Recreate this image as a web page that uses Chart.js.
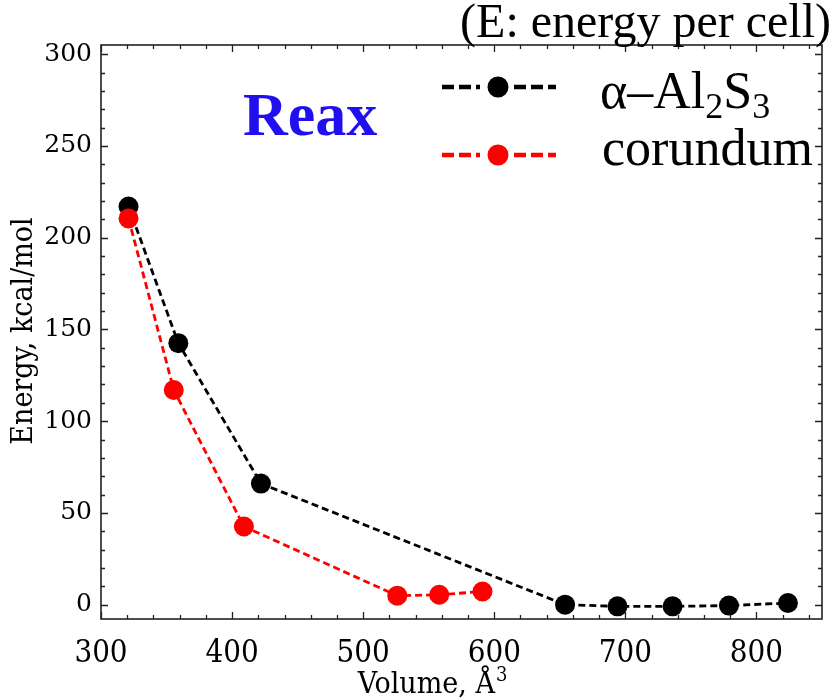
<!DOCTYPE html>
<html><head><meta charset="utf-8">
<script src="https://cdn.jsdelivr.net/npm/chart.js@4/dist/chart.umd.min.js"></script>
<style>html,body{margin:0;padding:0;background:#fff}#wrap{width:835px;height:700px}</style>
</head><body><div id="wrap"><canvas id="c" width="835" height="700"></canvas></div>
<script>
// ---- data ----
const alphaVolume = [321, 359, 422, 654, 694, 736, 779, 824];
const alphaEnergy = [217, 142.5, 66, 0, -0.9, -0.9, -0.5, 0.9];
const corVolume = [321, 355.5, 409, 526, 558, 591];
const corEnergy = [210.5, 117, 42.6, 4.9, 5.4, 7.2];
const xTicks = [300, 400, 500, 600, 700, 800];
const yTicks = [0, 50, 100, 150, 200, 250, 300];
const xTitleParts = [['Volume, Å', false], ['3', true]];
const yTitle = 'Energy, kcal/mol';
const noteText = '(E: energy per cell)';
const methodText = 'Reax';
const alphaLabelParts = [['α–Al', false], ['2', true], ['S', false], ['3', true]];
const corLabel = 'corundum';

const toPts = (xs, ys) => xs.map((x, i) => ({x: x, y: ys[i]}));
const COND = '"DejaVu Serif Condensed", "DejaVu Serif", serif';

const decor = {
  id: 'decor',
  beforeDatasetsDraw(chart) {
    const ctx = chart.ctx, a = chart.chartArea;
    const xs = chart.scales.x, ys = chart.scales.y;
    ctx.save();
    ctx.strokeStyle = '#222';
    ctx.lineWidth = 1.3;
    for (let v = 300; v <= 850; v += 20) {
      const px = Math.round(xs.getPixelForValue(v)) + 0.5;
      const L = v % 100 === 0 ? 7 : 4;
      ctx.beginPath();
      ctx.moveTo(px, a.bottom); ctx.lineTo(px, a.bottom - L);
      ctx.moveTo(px, a.top); ctx.lineTo(px, a.top + L);
      ctx.stroke();
    }
    for (let v = 0; v <= 300; v += 10) {
      const py = Math.round(ys.getPixelForValue(v)) + 0.5;
      const L = v % 50 === 0 ? 7 : 4;
      ctx.beginPath();
      ctx.moveTo(a.left, py); ctx.lineTo(a.left + L, py);
      ctx.moveTo(a.right, py); ctx.lineTo(a.right - L, py);
      ctx.stroke();
    }
    ctx.lineWidth = 1.6;
    ctx.strokeRect(a.left, a.top, a.right - a.left, a.bottom - a.top);
    ctx.restore();
  },
  afterDraw(chart) {
    const ctx = chart.ctx;
    ctx.save();
    ctx.fillStyle = '#000';
    ctx.textBaseline = 'alphabetic';
    // x axis title with superscript
    ctx.textAlign = 'left';
    let w = 0;
    for (const [t, sup] of xTitleParts) { ctx.font = (sup ? '20px ' : '30px ') + COND; w += ctx.measureText(t).width; }
    let tx = 432 - w / 2;
    for (const [t, sup] of xTitleParts) {
      ctx.font = (sup ? '20px ' : '30px ') + COND;
      ctx.fillText(t, tx, sup ? 681 : 693);
      tx += ctx.measureText(t).width + (sup ? 0 : 1);
    }
    // y axis title
    ctx.save();
    ctx.translate(32, 331);
    ctx.rotate(-Math.PI / 2);
    ctx.textAlign = 'center';
    ctx.font = '30px ' + COND;
    ctx.fillText(yTitle, 0, 0);
    ctx.restore();
    // note
    ctx.font = '48px "Liberation Serif", serif';
    ctx.textAlign = 'right';
    ctx.fillText(noteText, 831, 37);
    // method label
    ctx.font = 'bold 62px "Liberation Serif", serif';
    ctx.textAlign = 'left';
    ctx.fillStyle = 'rgb(32,16,240)';
    ctx.fillText(methodText, 243, 135);
    // legend
    const drawSample = (y, color) => {
      ctx.save();
      ctx.strokeStyle = color; ctx.lineWidth = 4.5;
      ctx.setLineDash([12, 5]);
      ctx.beginPath(); ctx.moveTo(442, y); ctx.lineTo(480, y); ctx.stroke();
      ctx.beginPath(); ctx.moveTo(514, y); ctx.lineTo(556, y); ctx.stroke();
      ctx.setLineDash([]);
      ctx.fillStyle = color;
      ctx.beginPath(); ctx.arc(498, y, 10.5, 0, Math.PI * 2); ctx.fill();
      ctx.restore();
    };
    drawSample(87, '#000');
    drawSample(155, '#ff0000');
    ctx.fillStyle = '#000';
    let x = 600;
    for (const [t, sub] of alphaLabelParts) {
      ctx.font = (sub ? '36px' : '52px') + ' "Liberation Serif", serif';
      ctx.fillText(t, x, sub ? 118 : 108);
      x += ctx.measureText(t).width;
    }
    ctx.font = '52px "Liberation Serif", serif';
    ctx.fillText(corLabel, 602, 165);
    ctx.restore();
  }
};

new Chart(document.getElementById('c'), {
  type: 'scatter',
  data: {
    datasets: [
      {
        label: 'alpha', data: toPts(alphaVolume, alphaEnergy), order: 1,
        showLine: true, borderColor: '#000', backgroundColor: '#000',
        borderWidth: 2.8, borderDash: [7, 4], pointRadius: 10, pointHoverRadius: 10,
        pointBorderWidth: 0, pointBackgroundColor: '#000'
      },
      {
        label: 'corundum', data: toPts(corVolume, corEnergy), order: 0,
        showLine: true, borderColor: '#ff0000', backgroundColor: '#ff0000',
        borderWidth: 2.8, borderDash: [7, 4], pointRadius: 10, pointHoverRadius: 10,
        pointBorderWidth: 0, pointBackgroundColor: '#ff0000'
      }
    ]
  },
  options: {
    responsive: false, animation: false, devicePixelRatio: 1,
    layout: {padding: {left: 0, right: 13, top: 45, bottom: 0}},
    plugins: {legend: {display: false}, tooltip: {enabled: false}},
    scales: {
      x: {
        type: 'linear', min: 300, max: 850,
        afterBuildTicks: s => { s.ticks = xTicks.map(v => ({value: v})); },
        afterFit: s => { s.height = 81; },
        grid: {display: false, drawTicks: false},
        border: {display: false},
        ticks: {color: '#000', padding: 16, font: {family: COND, size: 31}}
      },
      y: {
        type: 'linear', min: -7.8, max: 305,
        afterBuildTicks: s => { s.ticks = yTicks.map(v => ({value: v})); },
        afterFit: s => { s.width = 101; },
        grid: {display: false, drawTicks: false},
        border: {display: false},
        ticks: {color: '#000', padding: 9, font: {family: '"DejaVu Serif", serif', size: 25}}
      }
    }
  },
  plugins: [decor]
});
</script>
</body></html>
